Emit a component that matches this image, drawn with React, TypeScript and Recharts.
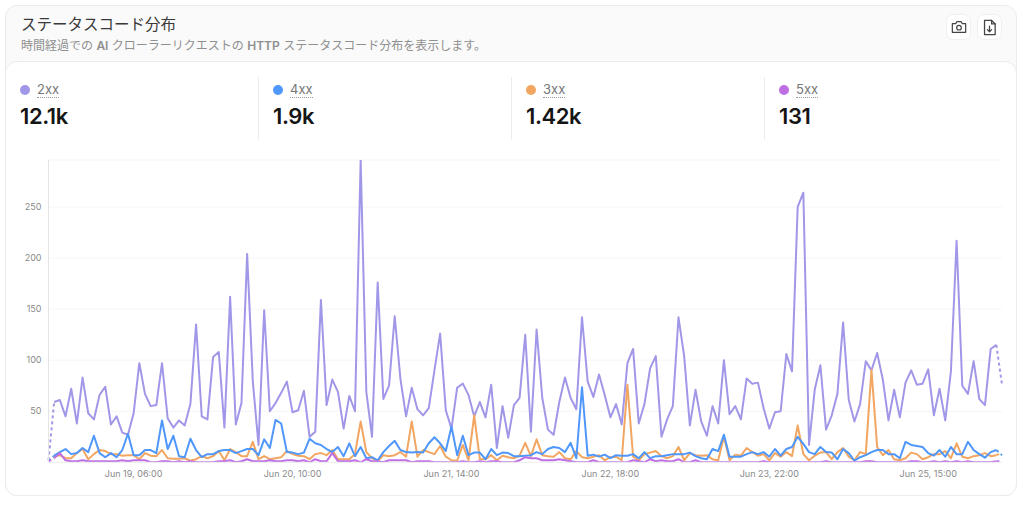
import React from "react";
import { LineChart, Line, XAxis, YAxis, CartesianGrid } from "recharts";

const values2xx = [
  2, 59, 61, 45, 72, 38, 83, 48, 42, 66,
  74, 37, 45, 29, 27, 48, 97, 67, 55, 56,
  97, 43, 34, 41, 36, 57, 135, 45, 42, 103,
  108, 34, 162, 37, 58, 204, 79, 17, 149, 50,
  58, 68, 79, 49, 51, 70, 25, 30, 159, 56,
  81, 69, 33, 65, 50, 296, 69, 25, 176, 62,
  75, 143, 82, 45, 73, 52, 46, 53, 90, 126,
  51, 33, 73, 77, 66, 45, 59, 44, 76, 14,
  55, 24, 56, 63, 125, 30, 130, 63, 32, 27,
  59, 83, 63, 52, 142, 79, 64, 86, 66, 44,
  57, 37, 97, 111, 38, 57, 92, 104, 25, 42,
  55, 142, 104, 36, 71, 40, 26, 55, 38, 100,
  47, 55, 42, 82, 77, 78, 53, 33, 49, 50,
  106, 89, 250, 264, 17, 71, 95, 32, 46, 67,
  137, 61, 40, 57, 99, 90, 107, 81, 41, 71,
  44, 78, 90, 76, 77, 91, 46, 72, 41, 89,
  217, 75, 67, 99, 62, 56, 111, 115, 76,
];

const values4xx = [
  1, 6.5, 10, 13, 8, 9, 14, 10, 26, 9,
  5, 9, 5, 12, 28, 7, 7, 12, 12, 9,
  41, 13, 26, 6, 5, 23, 12, 5, 8, 8,
  11, 12, 12, 9, 11, 13, 13, 7, 22.5, 14,
  41.5, 38, 10, 9.5, 8, 9.5, 23, 18.6, 17, 13,
  10, 15, 6, 18.6, 6, 15, 4, 5, 2, 10,
  16, 21, 12, 10, 9.5, 10, 9.5, 18.6, 24.5, 18.6,
  11, 35, 7, 26, 7, 9.5, 9.5, 3, 13, 7,
  9.5, 9, 6, 6, 6.5, 7, 10, 8, 13, 15,
  14, 10, 19, 4, 73.5, 6.5, 7.5, 5.5, 7.5, 4,
  7, 6.5, 6.5, 8, 4, 10, 4, 6, 6, 7,
  8, 8, 8, 9.5, 6, 4, 3, 13, 11, 27,
  5.5, 5.5, 5.5, 8, 10, 8, 10, 5.5, 13, 6.5,
  13, 15, 25, 18, 10, 8, 15, 10, 9.5, 3,
  13, 9, 1.5, 5, 7, 10, 12, 12, 8, 8,
  4, 20, 17, 16, 15, 9, 6.5, 12, 5.5, 15,
  8, 8, 20, 12, 8, 4.5, 10, 12, 7,
];

const values3xx = [
  1, 6, 7, 4, 4, 9, 13, 3, 8, 12,
  11, 8, 8, 6.5, 7, 7, 3, 9, 6.5, 6,
  12, 4, 3.5, 3.5, 4, 1.5, 3, 6, 4, 6,
  11, 2, 13, 10, 6, 6, 20, 3, 6, 3,
  4, 5, 11, 8, 6.5, 6, 3, 8, 9, 7,
  12, 3, 3, 3, 8, 40, 10, 4, 1, 7,
  6, 7, 10, 5.5, 40, 5.5, 12, 10, 8, 16,
  5.5, 2, 1.5, 17, 2, 46, 3, 3, 7, 2,
  6.5, 5, 4, 6.5, 19, 6, 22.5, 7, 6, 5.5,
  10, 4, 3, 11, 5, 4, 5.5, 7, 2, 5,
  5.5, 2, 76, 5.5, 2, 8, 9.5, 11, 6, 4,
  6, 15, 2, 9, 7, 6.5, 7, 3, 2, 25,
  2, 7.5, 6.5, 14, 10, 6.5, 8, 2, 9, 5.5,
  10, 6, 36, 8, 2, 6.5, 9.5, 10, 3, 10,
  14, 5.5, 2, 10, 8, 90.5, 15, 7, 12, 3,
  2, 4, 9.5, 8, 3, 5, 8, 8, 11, 4,
  18.6, 5.5, 4, 6, 7, 9, 6, 7, 9,
];

const values5xx = [
  1, 4, 9, 2, 1, 1, 2, 1, 1, 1,
  1, 1, 1, 2, 1, 2, 2, 2, 0, 0,
  1, 1, 0, 1, 0, 1, 0, 0, 0, 0,
  1, 1, 2, 0, 1, 3, 1, 1, 1, 2,
  1, 1, 2, 2, 1, 2, 0, 3, 1, 1,
  9, 1, 1, 1, 2, 0, 3, 1, 1, 0,
  2, 2, 2, 2, 0, 1, 1, 1, 0, 0,
  0, 0, 0, 1, 0, 0, 1, 0, 1, 1,
  0, 0, 0, 2, 5, 4, 4, 2, 2, 2,
  3, 2, 1, 0, 0, 0, 2, 0, 0, 0,
  0, 0, 0, 2, 1, 0, 3, 1, 2, 1,
  1, 3, 0, 0, 2, 0, 0, 0, 0, 0,
  0, 0, 0, 0, 0, 0, 1, 0, 0, 0,
  0, 0, 0, 0, 0, 0, 0, 1, 0, 0,
  0, 0, 0, 0, 1, 1, 0, 0, 0, 0,
  0, 0, 1, 1, 0, 0, 1, 0, 1, 0,
  1, 0, 1, 0, 0, 0, 0, 1, 1,
];

const tickLabels = [
  "Jun 19, 06:00",
  "Jun 20, 10:00",
  "Jun 21, 14:00",
  "Jun 22, 18:00",
  "Jun 23, 22:00",
  "Jun 25, 15:00",
];
const yTicks = [0, 50, 100, 150, 200, 250, 296];

const summary = [
  { label: "2xx", total: "12.1k", color: "#a197e8" },
  { label: "4xx", total: "1.9k", color: "#4f97fa" },
  { label: "3xx", total: "1.42k", color: "#f2a661" },
  { label: "5xx", total: "131", color: "#bd6fe3" },
];

const MONTHS = ["Jun"];
function categoryLabel(i: number): string {
  const hours = i <= 140 ? i : i + 13;
  const d = new Date(Date.UTC(2024, 5, 18, 15 + hours));
  const p = (n: number) => String(n).padStart(2, "0");
  return `${MONTHS[0]} ${p(d.getUTCDate())}, ${p(d.getUTCHours())}:00`;
}

const series = [
  { key: "2xx", values: values2xx, color: summary[0].color },
  { key: "3xx", values: values3xx, color: summary[2].color },
  { key: "4xx", values: values4xx, color: summary[1].color },
  { key: "5xx", values: values5xx, color: summary[3].color },
];

const last = values2xx.length - 1;
const rows = values2xx.map((_, i) => {
  const row: Record<string, string | number | null> = { t: categoryLabel(i) };
  series.forEach((s) => {
    row[s.key] = i === 0 || i === last ? null : s.values[i];
    row[s.key + "d1"] = i <= 1 ? s.values[i] : null;
    row[s.key + "d2"] = i >= last - 1 ? s.values[i] : null;
  });
  return row;
});

const FONT = "Inter, 'Noto Sans CJK JP', sans-serif";

function IconButton({ left, children }: { left: number; children: React.ReactNode }) {
  return (
    <div
      style={{
        position: "absolute", left, top: 14, width: 25, height: 26, boxSizing: "border-box",
        background: "#fff", border: "1px solid #f0f0f0", borderRadius: 7,
        display: "flex", alignItems: "center", justifyContent: "center",
      }}
    >
      {children}
    </div>
  );
}

export default function App() {
  return (
    <div style={{ position: "absolute", left: 0, top: 0, width: 1024, height: 505, background: "#fff", fontFamily: FONT, overflow: "hidden" }}>
      <div style={{ position: "absolute", left: 5, top: 5, width: 1012, height: 491, boxSizing: "border-box", background: "#fafafa", border: "1px solid #ececec", borderRadius: 12 }} />
      <div style={{ position: "absolute", left: 5, top: 61, width: 1012, height: 435, boxSizing: "border-box", background: "#fff", border: "1px solid #ececec", borderRadius: 12 }} />

      <div style={{ position: "absolute", left: 21, top: 14, fontSize: 15.5, lineHeight: "22px", color: "#3a3a3a", whiteSpace: "nowrap" }}>ステータスコード分布</div>
      <div style={{ position: "absolute", left: 21, top: 38, fontSize: 12, lineHeight: "16px", color: "#8f8f8f", whiteSpace: "nowrap" }}>
        時間経過での <b style={{ fontWeight: 600 }}>AI</b> クローラーリクエストの <b style={{ fontWeight: 600 }}>HTTP</b> ステータスコード分布を表示します。
      </div>

      <IconButton left={946}>
        <svg width="16" height="16" viewBox="0 0 24 24" fill="none" stroke="#444" strokeWidth="1.8" strokeLinejoin="round">
          <path d="M2 7h5l2-3h6l2 3h5v13H2z" />
          <circle cx="12" cy="13" r="3.5" />
        </svg>
      </IconButton>
      <IconButton left={977}>
        <svg width="17" height="17" viewBox="0 0 24 24" fill="none" stroke="#444" strokeWidth="1.8" strokeLinejoin="round" strokeLinecap="round">
          <path d="M5 2h10l5 5v15H5z" />
          <path d="M15 2v5h5" />
          <path d="M12 10v8M9 15l3 3 3-3" />
        </svg>
      </IconButton>

      {summary.map((s, i) => (
        <React.Fragment key={s.label}>
          <div style={{ position: "absolute", left: 20 + i * 253, top: 85, width: 10, height: 10, borderRadius: 5, background: s.color }} />
          <div style={{ position: "absolute", left: 37 + i * 253, top: 82, fontSize: 13, lineHeight: "15px", color: "#777", borderBottom: "1px dotted #999" }}>{s.label}</div>
          <div style={{ position: "absolute", left: 20 + i * 253, top: 101, fontSize: 22, lineHeight: "30px", fontWeight: 600, color: "#151515", letterSpacing: -0.4 }}>{s.total}</div>
          {i > 0 && <div style={{ position: "absolute", left: 5 + i * 253, top: 77, width: 1, height: 63, background: "#ececec" }} />}
        </React.Fragment>
      ))}

      <div style={{ position: "absolute", left: 0, top: 150 }}>
        <LineChart width={1024} height={340} data={rows} margin={{ top: 10, right: 22, bottom: 0, left: 0 }}>
          <CartesianGrid vertical={false} stroke="#f5f5f5" strokeWidth={1} />
          <XAxis
            dataKey="t"
            ticks={tickLabels}
            interval={0}
            axisLine={{ stroke: "#eeeeee" }}
            tickLine={false}
            height={27.7}
            tick={{ fontSize: 9, fill: "#8a8a8a", fontFamily: FONT }}
            tickMargin={2}
          />
          <YAxis
            width={48.5}
            domain={[0, 296]}
            ticks={yTicks}
            allowDataOverflow
            axisLine={{ stroke: "#e4e4e4" }}
            tickLine={false}
            tick={{ fontSize: 9, fill: "#8a8a8a", fontFamily: FONT }}
            tickMargin={1}
            tickFormatter={(v: number) => (v === 0 || v === 296 ? "" : String(v))}
          />
          {series.map((s) => (
            <Line key={s.key} dataKey={s.key} stroke={s.color} strokeWidth={2} dot={false} activeDot={false} isAnimationActive={false} connectNulls={false} strokeLinejoin="round" />
          ))}
          {series.map((s) => (
            <Line key={s.key + "d1"} dataKey={s.key + "d1"} stroke={s.color} strokeWidth={2} strokeDasharray="3 3" dot={false} activeDot={false} isAnimationActive={false} connectNulls={false} />
          ))}
          {series.map((s) => (
            <Line key={s.key + "d2"} dataKey={s.key + "d2"} stroke={s.color} strokeWidth={2} strokeDasharray="3 3" dot={false} activeDot={false} isAnimationActive={false} connectNulls={false} />
          ))}
        </LineChart>
      </div>
    </div>
  );
}
